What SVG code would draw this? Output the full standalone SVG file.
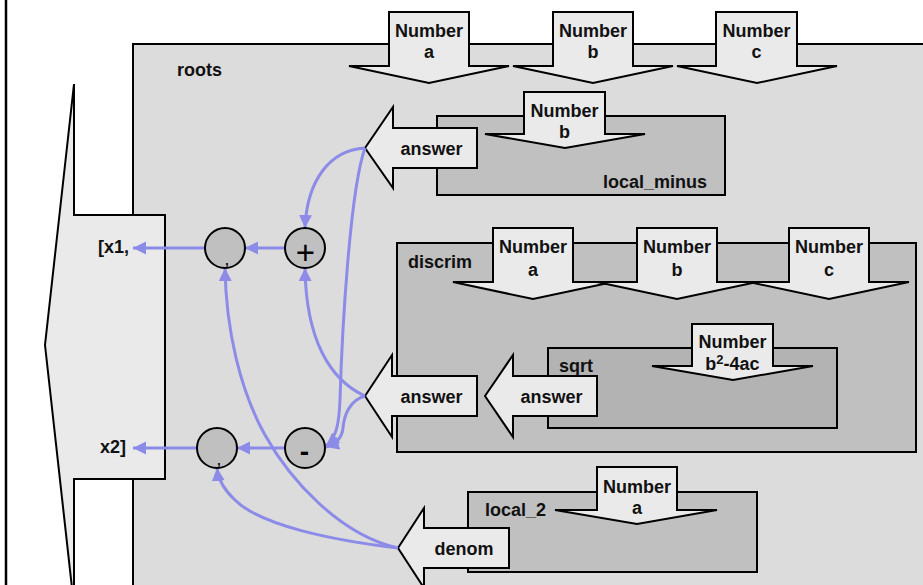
<svg xmlns="http://www.w3.org/2000/svg" width="923" height="585" viewBox="0 0 923 585">
<style>
.box{stroke:#000;stroke-width:2}
.port{fill:#eaeaea;stroke:#000;stroke-width:2;stroke-linejoin:miter}
.t{font-family:"Liberation Sans",Arial,sans-serif;font-weight:bold;font-size:18px;fill:#111}
.c{text-anchor:middle}
.conn{fill:none;stroke:#8c8ce8;stroke-width:3}
.op{fill:#c0c0c0;stroke:#000;stroke-width:2}
</style>
<defs>
<marker id="ah" markerUnits="userSpaceOnUse" markerWidth="14" markerHeight="14" refX="13" refY="6.5" orient="auto">
<path d="M0,0 L13,6.5 L0,13 z" fill="#8c8ce8"/>
</marker>
</defs>
<rect width="923" height="585" fill="#fff"/>
<line x1="6" y1="0" x2="6" y2="585" stroke="#000" stroke-width="2.5"/>

<g id="roots">
<rect class="box" x="133" y="44" width="800" height="560" fill="#dcdcdc"/>
<text class="t" x="177" y="76">roots</text>
</g>

<g id="result">
<polygon class="port" fill="#eaeaea" points="45,345 74,84 74,215 165,215 165,479 74,479 74,606"/>
<text class="t" x="98" y="253">[x1,</text>
<text class="t" x="100" y="453">x2]</text>
</g>

<g id="local_minus">
<rect class="box" x="437" y="116" width="288" height="79" fill="#c0c0c0"/>
<text class="t" x="707" y="188" text-anchor="end">local_minus</text>
</g>

<g id="discrim">
<rect class="box" x="397" y="243" width="519" height="209" fill="#c0c0c0"/>
<text class="t" x="408" y="268">discrim</text>
</g>

<g id="sqrt">
<rect class="box" x="548" y="348" width="289" height="80" fill="#b3b3b3"/>
<text class="t" x="559" y="372">sqrt</text>
</g>

<g id="local_2">
<rect class="box" x="468" y="492" width="289" height="80" fill="#c0c0c0"/>
<text class="t" x="485" y="516">local_2</text>
</g>

<g id="in_a">
<polygon class="port" points="389,12 469,12 469,66 509,66 429,83 349,66 389,66"/>
<text class="t c" x="429" y="37">Number</text><text class="t c" x="429" y="58">a</text>
</g>
<g id="in_b">
<polygon class="port" points="553,12 633,12 633,66 673,66 593,83 513,66 553,66"/>
<text class="t c" x="593" y="37">Number</text><text class="t c" x="593" y="58">b</text>
</g>
<g id="in_c">
<polygon class="port" points="716,12 797,12 797,66 837,66 757,83 677,66 716,66"/>
<text class="t c" x="756.5" y="37">Number</text><text class="t c" x="756.5" y="58">c</text>
</g>

<g id="lm_b">
<polygon class="port" points="524,92 605,92 605,134 645,134 565,148 485,134 524,134"/>
<text class="t c" x="564.5" y="117">Number</text><text class="t c" x="564.5" y="138">b</text>
</g>
<g id="lm_answer">
<polygon class="port" points="365,148 393,107 393,128 477,128 477,168 393,168 393,188"/>
<text class="t c" x="431.5" y="155">answer</text>
</g>

<g id="d_a">
<polygon class="port" points="493,228 573,228 573,282 613,282 533,299 453,282 493,282"/>
<text class="t c" x="533" y="253">Number</text><text class="t c" x="533" y="276">a</text>
</g>
<g id="d_b">
<polygon class="port" points="637,228 717,228 717,282 757,282 677,299 597,282 637,282"/>
<text class="t c" x="677" y="253">Number</text><text class="t c" x="677" y="276">b</text>
</g>
<g id="d_c">
<polygon class="port" points="789,228 869,228 869,282 909,282 829,299 749,282 789,282"/>
<text class="t c" x="829" y="253">Number</text><text class="t c" x="829" y="276">c</text>
</g>

<g id="sq_in">
<polygon class="port" points="692,324 773,324 773,366 813,366 733,380 652,366 692,366"/>
<text class="t c" x="732.5" y="348">Number</text><text class="t c" x="732.5" y="370">b<tspan font-size="13" dy="-6">2</tspan><tspan dy="6">-4ac</tspan></text>
</g>
<g id="sq_answer">
<polygon class="port" points="485,396 513,355 513,376 597,376 597,416 513,416 513,437"/>
<text class="t c" x="551.5" y="403">answer</text>
</g>
<g id="d_answer">
<polygon class="port" points="365,396 392,355 392,376 477,376 477,416 392,416 392,437"/>
<text class="t c" x="431.5" y="403">answer</text>
</g>

<g id="l2_a">
<polygon class="port" points="597,467 677,467 677,510 717,510 637,524 555,510 597,510"/>
<text class="t c" x="637" y="493">Number</text><text class="t c" x="637" y="514">a</text>
</g>
<g id="denom">
<polygon class="port" points="398,548 424,508 424,528 509,528 509,568 424,568 424,588"/>
<text class="t c" x="464" y="555">denom</text>
</g>

<g id="connectors">
<line class="conn" x1="205" y1="248" x2="133" y2="248" marker-end="url(#ah)"/>
<line class="conn" x1="285" y1="248" x2="245" y2="248" marker-end="url(#ah)"/>
<line class="conn" x1="197" y1="448" x2="133" y2="448" marker-end="url(#ah)"/>
<line class="conn" x1="285" y1="448" x2="237" y2="448" marker-end="url(#ah)"/>
<path class="conn" d="M365,148 C330,150 307,180 305,228" marker-end="url(#ah)" stroke-width="2.5"/>
<path class="conn" d="M365,148 C350,190 342,330 340,400 C339,425 336,438 326,446" marker-end="url(#ah)" stroke-width="2.5"/>
<path class="conn" d="M365,396 C330,380 306,340 305,268" marker-end="url(#ah)" stroke-width="2.5"/>
<path class="conn" d="M365,396 C350,400 344,415 343,428 C342,438 336,444 326,447" marker-end="url(#ah)" stroke-width="2.5"/>
<path class="conn" d="M398,548 C340,535 290,480 265,435 C240,390 226,330 225,268" marker-end="url(#ah)" stroke-width="2.5"/>
<path class="conn" d="M398,548 C330,540 260,525 235,500 C222,488 218,478 217,468" marker-end="url(#ah)" stroke-width="2.5"/>
</g>

<g id="div1">
<circle class="op" cx="225" cy="248" r="20"/>
<text x="227" y="265" font-family="Liberation Sans,Arial,sans-serif" font-weight="bold" font-size="12" text-anchor="middle">,</text>
</g>
<g id="plus">
<circle class="op" cx="305" cy="248" r="20"/>
<text x="305.5" y="264" font-family="Liberation Sans,Arial,sans-serif" font-size="33" text-anchor="middle">+</text>
</g>
<g id="div2">
<circle class="op" cx="217" cy="448" r="20"/>
<text x="219" y="465" font-family="Liberation Sans,Arial,sans-serif" font-weight="bold" font-size="12" text-anchor="middle">,</text>
</g>
<g id="minus">
<circle class="op" cx="305" cy="448" r="20"/>
<text x="304.5" y="461" font-family="Liberation Sans,Arial,sans-serif" font-weight="bold" font-size="28" text-anchor="middle">-</text>
</g>
</svg>
